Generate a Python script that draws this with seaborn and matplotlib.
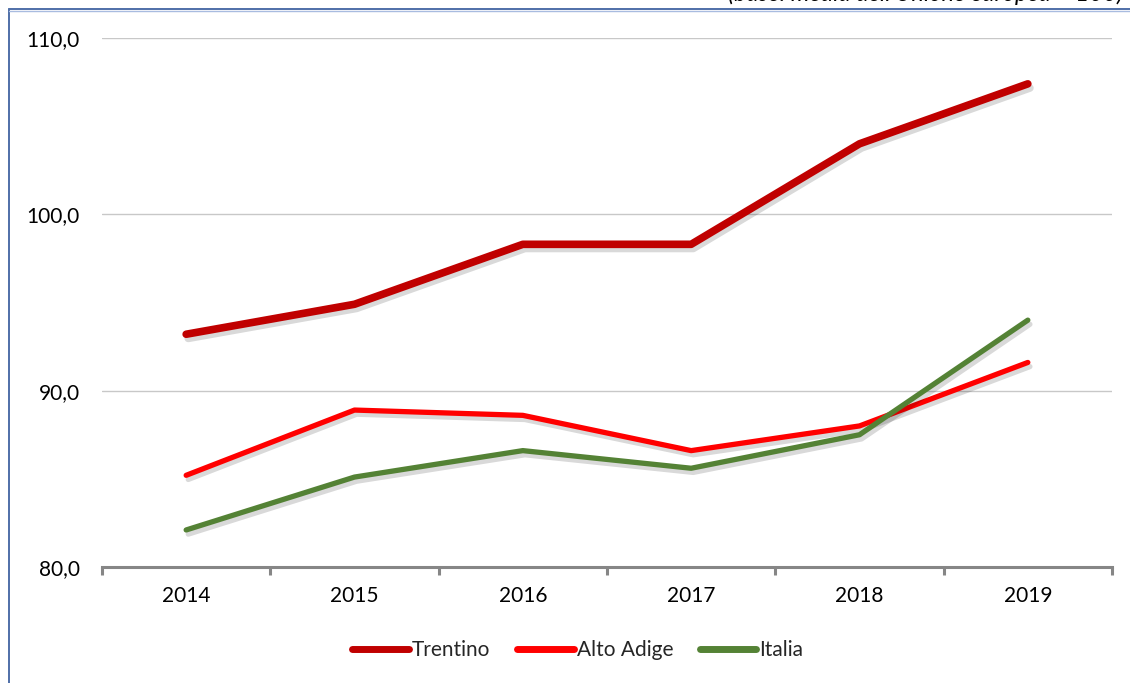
import pandas as pd
import matplotlib.pyplot as plt
import matplotlib.patheffects as pe
from matplotlib.lines import Line2D
from matplotlib.ticker import FixedLocator, FuncFormatter
import seaborn as sns

# dati
ANNI = ["2014", "2015", "2016", "2017", "2018", "2019"]
TRENTINO = [93.2, 94.9, 98.3, 98.3, 104.0, 107.4]
ALTO_ADIGE = [85.2, 88.9, 88.6, 86.6, 88.0, 91.6]
ITALIA = [82.1, 85.1, 86.6, 85.6, 87.5, 94.0]

SERIE = ["Trentino", "Alto Adige", "Italia"]
COLORI = {"Trentino": "#C00000", "Alto Adige": "#FF0000", "Italia": "#548235"}
SPESSORI = {"Trentino": 5.5, "Alto Adige": 3.8, "Italia": 3.8}

df = pd.DataFrame({
    "anno": ANNI * 3,
    "valore": TRENTINO + ALTO_ADIGE + ITALIA,
    "serie": [s for s in SERIE for _ in ANNI],
})

sns.set_theme(style="white")
plt.rcParams["font.family"] = ["Lato", "DejaVu Sans"]

fig = plt.figure(figsize=(11.3, 6.83), dpi=100)
ax = fig.add_axes([102 / 1130, 1 - 567 / 683, (1112 - 102) / 1130, (567 - 38) / 683])

sns.lineplot(
    data=df, x="anno", y="valore", hue="serie", size="serie",
    hue_order=SERIE, size_order=SERIE, palette=COLORI, sizes=SPESSORI,
    ax=ax, legend=False, sort=False,
)

# ombra leggera come in Excel
ombra = [pe.SimpleLineShadow(offset=(1.5, -3), alpha=0.15, shadow_color="black"), pe.Normal()]
for ln in ax.lines:
    ln.set_solid_capstyle("round")
    ln.set_path_effects(ombra)

ax.set_xlim(-0.5, len(ANNI) - 0.5)
ax.set_ylim(80, 110)
ax.yaxis.set_major_locator(FixedLocator([80, 90, 100, 110]))
ax.yaxis.set_major_formatter(FuncFormatter(lambda v, p: f"{v:.1f}".replace(".", ",")))
ax.grid(axis="y", color="#C8C8C8", linewidth=1)
ax.set_axisbelow(True)

for s in ["top", "right", "left"]:
    ax.spines[s].set_visible(False)
ax.spines["bottom"].set_color("#868686")
ax.spines["bottom"].set_linewidth(2.2)

ax.xaxis.set_minor_locator(FixedLocator([i - 0.5 for i in range(len(ANNI) + 1)]))
ax.tick_params(axis="x", which="minor", bottom=True, length=6, width=2.2, color="#868686")
ax.tick_params(axis="x", which="major", length=0, pad=14, labelsize=15, labelcolor="#000000")
ax.tick_params(axis="y", length=0, pad=16, labelsize=15, labelcolor="#000000")
ax.set_xlabel("")
ax.set_ylabel("")

handles = [Line2D([0], [0], color=COLORI[s], lw=5, solid_capstyle="round") for s in SERIE]
fig.legend(handles, SERIE, loc="center", bbox_to_anchor=(578 / 1130, 1 - 650 / 683),
           ncol=3, frameon=False, fontsize=15, handlelength=2.7, handletextpad=0.15,
           columnspacing=1.3)

# cornice del riquadro
fig.add_artist(Line2D([8.5 / 1130, 8.5 / 1130], [0, 1 - 9 / 683], color="#4F6FA8", lw=1.4))
fig.add_artist(Line2D([8.5 / 1130, 1], [1 - 9 / 683, 1 - 9 / 683], color="#4F6FA8", lw=1.4))
fig.add_artist(Line2D([8.5 / 1130, 1], [1 - 10.5 / 683, 1 - 10.5 / 683], color="#A9BCE0", lw=1))

# nota in alto, tagliata dal bordo come nell'originale
fig.text(728 / 1130, 1 - 1 / 683, "(base: media dell'Unione europea = 100)",
         fontsize=17, style="italic", va="baseline", ha="left", color="#000000")

fig.savefig("out.png", dpi=100)
